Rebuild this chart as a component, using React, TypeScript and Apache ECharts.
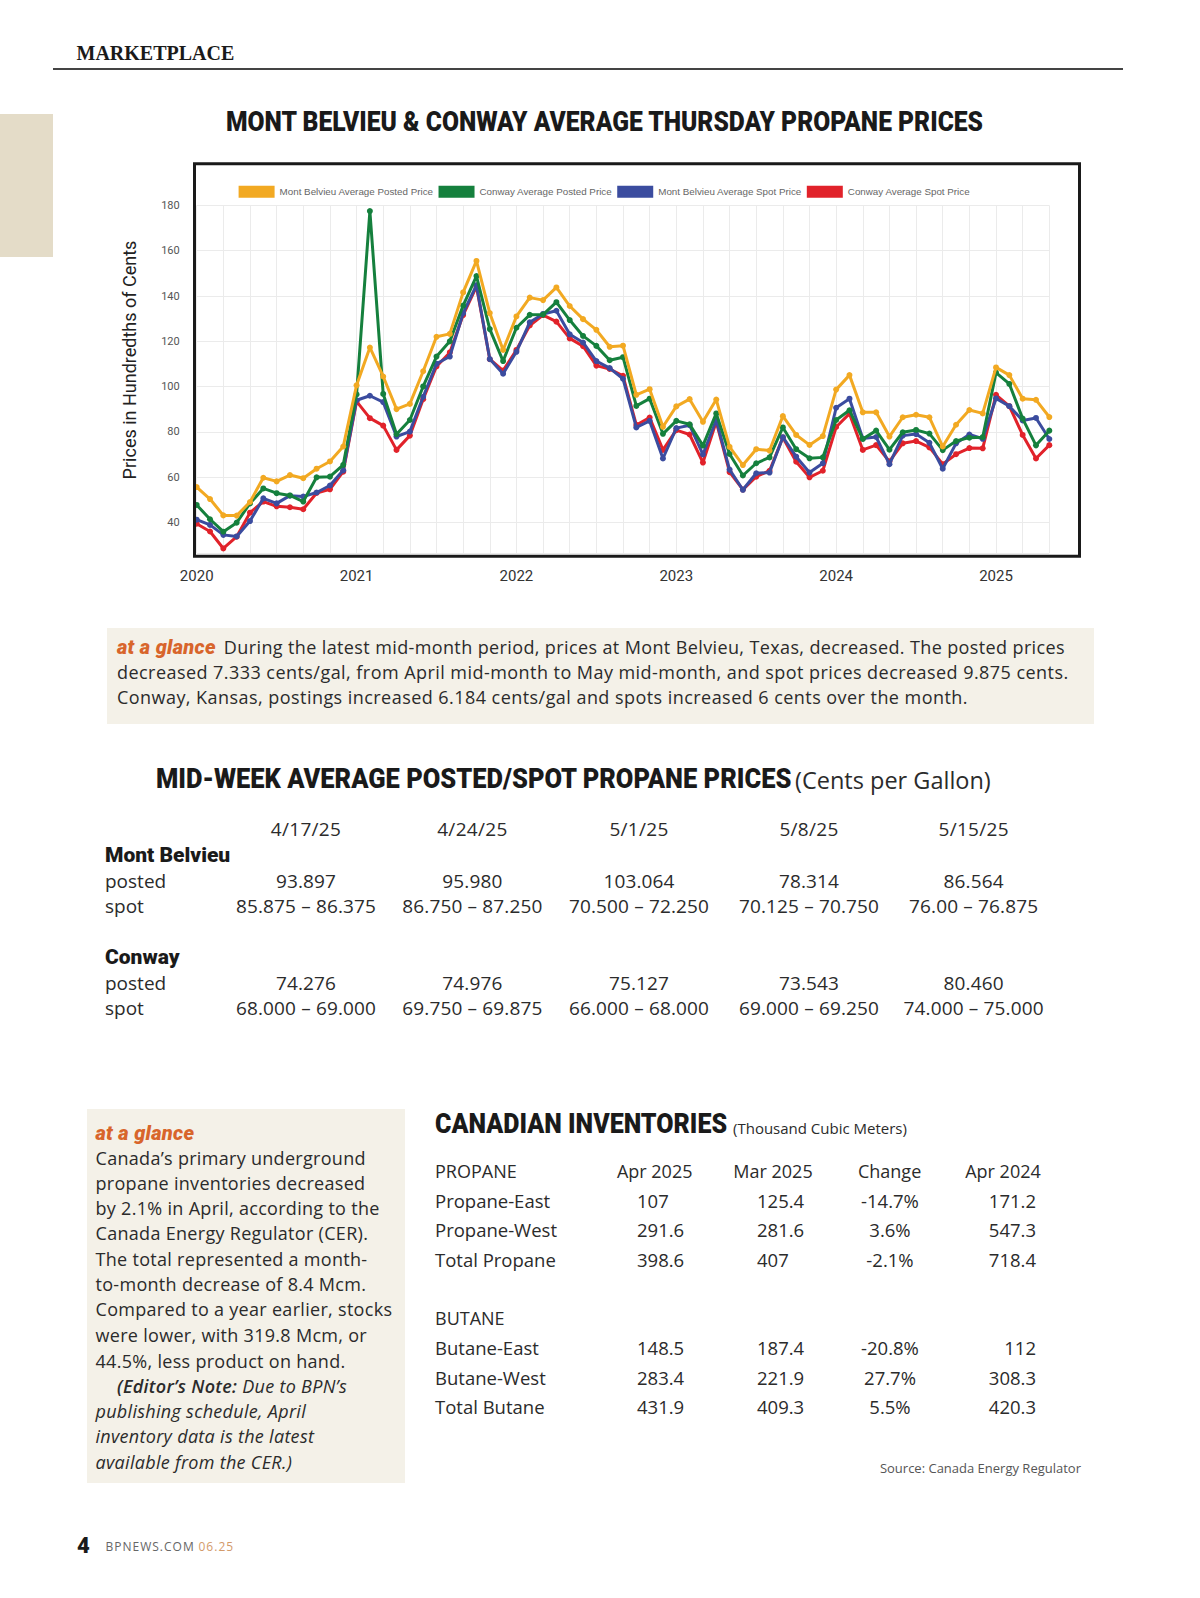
import React, { useEffect, useRef } from "react";
import * as echarts from "echarts";

// ---------- DATA ----------
const MONTHS = [
  "2020-01","2020-02","2020-03","2020-04","2020-05","2020-06","2020-07","2020-08","2020-09","2020-10","2020-11","2020-12",
  "2021-01","2021-02","2021-03","2021-04","2021-05","2021-06","2021-07","2021-08","2021-09","2021-10","2021-11","2021-12",
  "2022-01","2022-02","2022-03","2022-04","2022-05","2022-06","2022-07","2022-08","2022-09","2022-10","2022-11","2022-12",
  "2023-01","2023-02","2023-03","2023-04","2023-05","2023-06","2023-07","2023-08","2023-09","2023-10","2023-11","2023-12",
  "2024-01","2024-02","2024-03","2024-04","2024-05","2024-06","2024-07","2024-08","2024-09","2024-10","2024-11","2024-12",
  "2025-01","2025-02","2025-03","2025-04","2025-05",
];

const MB_POSTED = [
  55.7, 50.4, 43.2, 43.1, 49.1, 59.8, 58.2, 61.0, 59.6, 63.8,
  67.0, 73.6, 100.6, 117.3, 104.5, 90.1, 92.4, 106.8, 122.0, 123.3,
  141.6, 155.5, 132.5, 116.2, 131.0, 139.3, 138.2, 143.8, 135.6, 129.8,
  125.1, 117.6, 118.1, 96.4, 98.9, 82.3, 91.3, 94.5, 84.5, 94.3,
  73.4, 65.4, 72.4, 71.8, 87.0, 78.7, 74.3, 78.2, 98.7, 105.1,
  88.7, 88.7, 78.0, 86.5, 87.6, 86.5, 73.6, 83.2, 89.7, 88.2,
  108.5, 105.1, 94.7, 94.2, 86.6,
];
const CW_POSTED = [
  47.8, 41.5, 36.0, 40.0, 48.5, 55.1, 53.0, 52.0, 49.3, 60.0,
  60.3, 65.5, 96.6, 177.5, 96.8, 79.0, 85.3, 100.1, 113.3, 120.0,
  135.8, 148.8, 125.4, 111.3, 126.0, 131.7, 131.8, 137.3, 129.4, 122.4,
  118.0, 111.7, 113.0, 91.5, 94.7, 79.2, 84.9, 83.4, 74.0, 88.2,
  70.3, 60.8, 66.2, 68.8, 82.0, 72.4, 68.4, 68.8, 85.3, 89.6,
  76.9, 80.6, 72.2, 79.9, 80.9, 79.3, 72.0, 76.0, 77.5, 77.7,
  106.2, 101.2, 85.9, 74.1, 80.6,
];
const MB_SPOT = [
  41.3, 39.0, 34.6, 33.9, 40.7, 50.7, 48.5, 51.9, 51.5, 53.3,
  56.4, 63.1, 94.0, 96.0, 93.2, 78.0, 80.2, 95.5, 110.1, 113.3,
  132.4, 144.8, 112.2, 105.7, 115.4, 128.4, 132.1, 133.5, 123.1, 119.5,
  111.3, 108.2, 103.5, 82.0, 84.9, 68.3, 81.7, 83.0, 70.1, 85.3,
  63.4, 54.5, 61.8, 62.1, 77.7, 69.1, 62.1, 66.2, 90.7, 94.7,
  77.1, 77.8, 65.8, 78.4, 79.1, 75.2, 63.8, 75.0, 78.9, 77.0,
  94.8, 91.4, 85.1, 86.2, 76.9,
];
const CW_SPOT = [
  39.5, 36.1, 28.6, 33.8, 44.4, 49.3, 47.2, 46.8, 45.9, 53.1,
  54.7, 62.5, 93.5, 86.1, 82.8, 72.1, 78.4, 94.5, 108.9, 115.1,
  131.6, 144.2, 112.1, 107.1, 116.2, 127.0, 131.6, 128.7, 121.3, 117.9,
  109.3, 107.8, 104.8, 83.1, 86.4, 72.1, 80.8, 78.9, 66.5, 84.5,
  62.3, 54.6, 60.3, 62.9, 77.6, 66.9, 60.0, 62.9, 82.2, 88.1,
  72.1, 74.2, 67.0, 75.0, 76.0, 73.2, 65.8, 70.2, 72.9, 72.8,
  96.4, 91.4, 78.7, 68.3, 74.2,
];

const SERIES_NAMES = [
  "Mont Belvieu Average Posted Price",
  "Conway Average Posted Price",
  "Mont Belvieu Average Spot Price",
  "Conway Average Spot Price",
];
const SERIES_COLORS = ["#F2A922", "#15803D", "#3B4C9F", "#E1222A"];

const Y_TICKS = [40, 60, 80, 100, 120, 140, 160, 180];

const MIDWEEK_DATES = ["4/17/25", "4/24/25", "5/1/25", "5/8/25", "5/15/25"];
const MB_POSTED_WEEK = ["93.897", "95.980", "103.064", "78.314", "86.564"];
const MB_SPOT_WEEK = ["85.875 – 86.375", "86.750 – 87.250", "70.500 – 72.250", "70.125 – 70.750", "76.00 – 76.875"];
const CW_POSTED_WEEK = ["74.276", "74.976", "75.127", "73.543", "80.460"];
const CW_SPOT_WEEK = ["68.000 – 69.000", "69.750 – 69.875", "66.000 – 68.000", "69.000 – 69.250", "74.000 – 75.000"];

const INV_HEADERS = ["Apr 2025", "Mar 2025", "Change", "Apr 2024"];
const PROPANE_ROWS = [
  ["Propane-East", "107", "125.4", "-14.7%", "171.2"],
  ["Propane-West", "291.6", "281.6", "3.6%", "547.3"],
  ["Total Propane", "398.6", "407", "-2.1%", "718.4"],
];
const BUTANE_ROWS = [
  ["Butane-East", "148.5", "187.4", "-20.8%", "112"],
  ["Butane-West", "283.4", "221.9", "27.7%", "308.3"],
  ["Total Butane", "431.9", "409.3", "5.5%", "420.3"],
];

const GLANCE_1 = [
  "During the latest mid-month period, prices at Mont Belvieu, Texas, decreased. The posted prices",
  "decreased 7.333 cents/gal, from April mid-month to May mid-month, and spot prices decreased 9.875 cents.",
  "Conway, Kansas, postings increased 6.184 cents/gal and spots increased 6 cents over the month.",
];
const GLANCE_2 = [
  "Canada’s primary underground",
  "propane inventories decreased",
  "by 2.1% in April, according to the",
  "Canada Energy Regulator (CER).",
  "The total represented a month-",
  "to-month decrease of 8.4 Mcm.",
  "Compared to a year earlier, stocks",
  "were lower, with 319.8 Mcm, or",
  "44.5%, less product on hand.",
];
const GLANCE_2_NOTE = [
  "publishing schedule, April",
  "inventory data is the latest",
  "available from the CER.)",
];

// ---------- STYLE ----------
const HEAD = "Roboto, sans-serif";
const BODY = "'Open Sans', Roboto, sans-serif";
const INK = "#2b2b2b";
const ORANGE = "#D8652B";

type TP = {
  x: number; y: number; size: number; children?: React.ReactNode;
  align?: "left" | "center" | "right"; style?: React.CSSProperties;
};
const T = ({ x, y, size, children, align = "left", style }: TP) => {
  const base: React.CSSProperties = {
    position: "absolute",
    top: y - size * 0.6,
    fontSize: size,
    lineHeight: `${size * 1.2}px`,
    whiteSpace: "nowrap",
    fontFamily: BODY,
    color: INK,
  };
  if (align === "left") base.left = x;
  else if (align === "right") base.right = 1200 - x;
  else { base.left = x; base.transform = "translateX(-50%)"; }
  return <div style={{ ...base, ...style }}>{children}</div>;
};

const headStyle = (sx: number): React.CSSProperties => ({
  fontFamily: HEAD,
  fontWeight: 900,
  color: "#1a1a1a",
  transform: `scaleX(${sx})`,
  transformOrigin: "left center",
});

function Chart() {
  const ref = useRef<HTMLDivElement>(null);
  useEffect(() => {
    if (!ref.current) return;
    const chart = echarts.init(ref.current, undefined, { renderer: "svg" });
    const data = [MB_POSTED, CW_POSTED, MB_SPOT, CW_SPOT];
    chart.setOption({
      animation: false,
      backgroundColor: "transparent",
      legend: {
        data: SERIES_NAMES,
        left: 238.6,
        top: 185.7,
        padding: 0,
        icon: "rect",
        itemWidth: 36,
        itemHeight: 12,
        itemGap: 5,
        textStyle: { fontFamily: "'Liberation Sans', Arial, sans-serif", fontSize: 9.8, color: "#666" },
      },
      grid: { left: 196.7, right: 150.7, top: 205.4, bottom: 1045, containLabel: false },
      xAxis: {
        type: "category",
        data: MONTHS,
        boundaryGap: false,
        axisLine: { show: false },
        axisTick: { show: false },
        axisLabel: {
          interval: (i: number) => i % 12 === 0,
          formatter: (v: string) => v.slice(0, 4),
          margin: 15,
          fontSize: 15,
          color: "#333",
          fontFamily: "Roboto, sans-serif",
        },
        splitLine: { show: true, interval: 1, lineStyle: { color: "#ebebeb", width: 1 } },
      },
      yAxis: {
        type: "value",
        min: 26.6,
        max: 180,
        splitNumber: 7,
        axisLine: { show: false },
        axisTick: { show: false },
        axisLabel: {
          formatter: (v: number) => (Y_TICKS.indexOf(v) >= 0 ? String(v) : ""),
          margin: 17,
          fontSize: 11,
          color: "#555",
          fontFamily: "Roboto, sans-serif",
        },
        splitLine: { lineStyle: { color: "#ebebeb", width: 1 } },
      },
      graphic: [
        {
          type: "text",
          x: 604.5,
          y: 121,
          scaleX: 0.88,
          style: {
            text: "MONT BELVIEU & CONWAY AVERAGE THURSDAY PROPANE PRICES",
            fontSize: 28,
            fontWeight: 900,
            fontFamily: HEAD,
            fill: "#1a1a1a",
            align: "center",
            verticalAlign: "middle",
          },
        },
        {
          type: "rect",
          shape: { x: 194.5, y: 163.8, width: 885, height: 392.5 },
          style: { fill: "none", stroke: "#1a1a1a", lineWidth: 3 },
          z: 100,
        },
        {
          type: "text",
          x: 129,
          y: 360,
          rotation: Math.PI / 2,
          style: {
            text: "Prices in Hundredths of Cents",
            fontSize: 18,
            fontFamily: "Roboto, sans-serif",
            fill: "#222",
            align: "center",
            verticalAlign: "middle",
          },
        },
      ],
      series: SERIES_NAMES.map((name, k) => ({
        type: "line",
        name,
        data: data[k],
        symbol: "circle",
        symbolSize: 6,
        showSymbol: true,
        z: 10 - k,
        lineStyle: { width: 3, color: SERIES_COLORS[k] },
        itemStyle: { color: SERIES_COLORS[k] },
      })),
    });
    return () => chart.dispose();
  }, []);
  return <div ref={ref} style={{ position: "absolute", left: 0, top: 0, width: 1200, height: 1598 }} />;
}

export default function App() {
  const colX = [306, 472.4, 639, 809, 973.7];
  const weekRows: [string, string[], number][] = [
    ["posted", MB_POSTED_WEEK, 881.7],
    ["spot", MB_SPOT_WEEK, 906.7],
    ["posted", CW_POSTED_WEEK, 983],
    ["spot", CW_SPOT_WEEK, 1008],
  ];
  const invRows: [string[], number][] = [
    [PROPANE_ROWS[0], 1201], [PROPANE_ROWS[1], 1230.5], [PROPANE_ROWS[2], 1260],
    [BUTANE_ROWS[0], 1348.5], [BUTANE_ROWS[1], 1378], [BUTANE_ROWS[2], 1407.5],
  ];
  const noteY = [1412, 1437, 1462.5];
  const g2Y = [1158.3, 1184, 1209, 1234, 1259.5, 1285, 1310, 1336, 1361.5];
  const g1 = { letterSpacing: 0.45 };
  const g2 = { letterSpacing: 0.3 };
  const glanceHead: React.CSSProperties = { fontFamily: HEAD, fontWeight: 900, fontStyle: "italic", color: ORANGE, letterSpacing: 0.3 };
  return (
    <div style={{ position: "absolute", left: 0, top: 0, width: 1200, height: 1598, background: "#fff", overflow: "hidden" }}>
      {/* side tab */}
      <div style={{ position: "absolute", left: 0, top: 114, width: 53, height: 143, background: "#E4DCC8" }} />
      {/* header */}
      <T x={76.5} y={52.5} size={20} style={{ fontFamily: "'Liberation Serif', serif", fontWeight: 700, color: "#1a1a1a" }}>MARKETPLACE</T>
      <div style={{ position: "absolute", left: 53, top: 67.5, width: 1070, height: 2, background: "#444" }} />

      <Chart />

      {/* at a glance 1 */}
      <div style={{ position: "absolute", left: 107, top: 628, width: 987, height: 96, background: "#F4F1E8" }} />
      <T x={117} y={647.4} size={18} style={{ letterSpacing: 0.38 }}>
        <span style={{ ...glanceHead, fontSize: 20 }}>at a glance</span>
        <span style={{ marginLeft: 8 }}>{GLANCE_1[0]}</span>
      </T>
      <T x={117} y={672.9} size={18} style={g1}>{GLANCE_1[1]}</T>
      <T x={117} y={697.3} size={18} style={g1}>{GLANCE_1[2]}</T>

      {/* mid-week table */}
      <T x={156} y={779} size={28} style={headStyle(0.909)}>MID-WEEK AVERAGE POSTED/SPOT PROPANE PRICES</T>
      <T x={795} y={780} size={23.5}>(Cents per Gallon)</T>
      {MIDWEEK_DATES.map((d, i) => (
        <T key={d} x={colX[i]} y={829} size={19} align="center" style={{ letterSpacing: 0.3 }}>{d}</T>
      ))}
      <T x={105} y={856} size={21} style={{ fontFamily: HEAD, fontWeight: 900, color: "#1a1a1a" }}>Mont Belvieu</T>
      <T x={105} y={958} size={21} style={{ fontFamily: HEAD, fontWeight: 900, color: "#1a1a1a" }}>Conway</T>
      {weekRows.map(([label, vals, y], r) => (
        <React.Fragment key={r}>
          <T x={105} y={y} size={19}>{label}</T>
          {vals.map((v, i) => (
            <T key={i} x={colX[i]} y={y} size={19} align="center" style={{ letterSpacing: 0.15 }}>{v}</T>
          ))}
        </React.Fragment>
      ))}

      {/* at a glance 2 */}
      <div style={{ position: "absolute", left: 87, top: 1109, width: 318, height: 374, background: "#F4F1E8" }} />
      <T x={95.5} y={1132.5} size={20} style={glanceHead}>at a glance</T>
      {GLANCE_2.map((l, i) => (
        <T key={i} x={95.5} y={g2Y[i]} size={18} style={g2}>{l}</T>
      ))}
      <T x={117} y={1386.7} size={18} style={{ ...g2, fontStyle: "italic" }}>
        <span style={{ fontWeight: 600 }}>(Editor’s Note:</span> Due to BPN’s
      </T>
      {GLANCE_2_NOTE.map((l, i) => (
        <T key={i} x={95.5} y={noteY[i]} size={18} style={{ ...g2, fontStyle: "italic" }}>{l}</T>
      ))}

      {/* Canadian inventories */}
      <T x={435} y={1124} size={28} style={headStyle(0.893)}>CANADIAN INVENTORIES</T>
      <T x={733} y={1128} size={15}>(Thousand Cubic Meters)</T>
      <T x={435} y={1171.5} size={18}>PROPANE</T>
      <T x={435} y={1319} size={18}>BUTANE</T>
      {INV_HEADERS.map((h, i) => (
        <T key={h} x={[654.7, 773, 889.6, 1003][i]} y={1171.5} size={18} align="center">{h}</T>
      ))}
      {invRows.map(([row, y], r) => (
        <React.Fragment key={r}>
          <T x={435} y={y} size={18.5}>{row[0]}</T>
          <T x={637} y={y} size={18.5}>{row[1]}</T>
          <T x={757} y={y} size={18.5}>{row[2]}</T>
          <T x={890} y={y} size={18.5} align="center">{row[3]}</T>
          <T x={1036} y={y} size={18.5} align="right">{row[4]}</T>
        </React.Fragment>
      ))}
      <T x={1081} y={1469} size={13} align="right" style={{ color: "#555" }}>Source: Canada Energy Regulator</T>

      {/* footer */}
      <T x={77} y={1546.5} size={22} style={{ fontFamily: HEAD, fontWeight: 900, color: "#1a1a1a" }}>4</T>
      <T x={105.5} y={1547} size={12} style={{ color: "#666", letterSpacing: 1 }}>BPNEWS.COM</T>
      <T x={198.5} y={1547} size={12} style={{ color: "#D39A6A", letterSpacing: 1 }}>06.25</T>
    </div>
  );
}
